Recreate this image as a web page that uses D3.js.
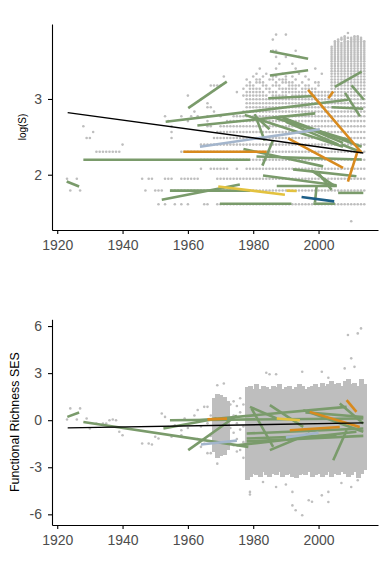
<!DOCTYPE html>
<html><head><meta charset="utf-8">
<script src="https://cdn.jsdelivr.net/npm/d3@7"></script>
<style>body{margin:0;background:#fff}svg{display:block}</style>
</head><body>
<svg id="c" width="390" height="565"></svg>
<script>
// ---------- DATA ----------
const xTicks = [1920, 1940, 1960, 1980, 2000];
const topYTicks = [2, 3];
const botYTicks = [-6, -3, 0, 3, 6];
const topYLabel = "log(S)";
const botYLabel = "Functional Richness SES";

// top panel raw observations: [species count S, first year, last year] (one point per year)
const topRuns = [
[4,2010,2010],
[5,1951,1951],[5,1953,1953],[5,1956,1956],[5,1958,1958],[5,1960,1960],[5,1965,1966],[5,1969,2014],
[6,1924,1924],[6,1927,1927],[6,1947,1947],[6,1950,1952],[6,1955,2014],
[7,1923,1923],[7,1926,1926],[7,1946,1946],[7,1948,1949],[7,1953,1955],[7,1958,1963],[7,1969,2014],
[8,1964,1964],[8,1967,1972],[8,1975,1975],[8,1978,2014],
[9,1964,2014],
[10,1932,1939],[10,1958,2014],
[11,1940,1940],[11,1964,2014],
[12,1929,1930],[12,1955,1955],[12,1968,2014],
[13,1931,1931],[13,1955,1955],[13,1969,2014],
[14,1928,1928],[14,1955,1955],[14,1966,1967],[14,1970,2014],
[15,1954,1954],[15,1960,1960],[15,1966,1966],[15,1972,2014],
[16,1953,1953],[16,1958,1958],[16,1961,1961],[16,1963,1963],[16,1966,1966],[16,1970,1970],[16,1974,2014],
[17,1962,1962],[17,1968,1968],[17,1977,2014],
[18,1966,1967],[18,1978,2014],
[19,1966,1966],[19,1978,2014],
[20,1964,1964],[20,1978,2014],
[21,1960,1960],[21,1977,1984],[21,1986,1990],[21,1992,2014],
[22,1975,1975],[22,1978,1983],[22,1985,1987],[22,1989,1996],[22,1998,2014],
[23,1977,1977],[23,1979,1982],[23,1984,1985],[23,1988,1993],[23,1995,1999],[23,2004,2014],
[24,1967,1970],[24,1978,1980],[24,1983,1984],[24,1986,1988],[24,1991,1994],[24,1996,1997],[24,2000,2000],[24,2004,2014],
[25,1979,1979],[25,1981,1983],[25,1987,1987],[25,1989,1992],[25,1995,1995],[25,1999,2000],[25,2004,2014],
[26,1978,1978],[26,1981,1982],[26,1985,1986],[26,1988,1990],[26,1993,1993],[26,1997,1997],[26,2004,2014],
[27,1971,1971],[27,1980,1980],[27,1983,1983],[27,1986,1987],[27,1990,1990],[27,1992,1992],[27,1996,1996],[27,2004,2014],
[28,1981,1981],[28,1984,1984],[28,1989,1989],[28,1994,1994],[28,2001,2001],[28,2004,2014],
[29,2004,2014],
[30,1982,1982],[30,1987,1987],[30,1993,1993],[30,1999,1999],[30,2004,2014],
[31,2004,2014],[32,1988,1988],[32,1992,1992],[32,2004,2014],[33,2004,2014],[34,2004,2014],
[35,1987,1987],[35,1990,1990],[35,1994,1994],[35,2004,2014],[36,2004,2014],[37,2004,2014],
[38,1986,1987],[38,1993,1993],[38,2004,2014],[39,2004,2014],[40,2004,2014],[41,2005,2014],
[42,2005,2014],[43,2005,2006],[43,2008,2014],[44,1986,1986],[44,2006,2008],[44,2010,2013],
[45,2007,2013],[46,2008,2008],[46,2011,2012],
[47,1987,1987],[47,1990,1990],[48,2009,2009]
];

// top panel site trends: [year0, value0, year1, value1]
const topGreen = [
[1922.9,1.91,1926.7,1.845],[1928,2.197,1979,2.197],[1960.1,2.88,1971.9,3.23],
[1953.2,2.70,2009.1,2.99],[1962.9,2.65,1999,2.81],[1985.1,3.63,1996.8,3.53],
[1985.1,3.31,1996.8,3.38],[1984.6,3.01,1998.9,3.04],[2005,3.16,2013.2,3.36],
[2010.1,3.18,2013.9,2.99],[2008.1,3.08,2012.7,2.77],[2004,2.89,2013.7,2.87],
[1980.5,2.80,1983.5,2.45],[1981,2.76,1985,2.60],[1986,2.45,1982.8,2.12],
[1977.4,2.79,2007.5,2.37],[1988.2,2.77,2007.5,2.42],[1989.2,2.75,2013.2,2.37],
[1986,2.76,2010,2.45],[1990,2.70,2006,2.40],[1977,2.34,2001.4,2.11],
[1981,2.24,2013.2,2.20],[1983,1.99,2005.5,1.86],[1992.2,2.07,2011.6,1.98],
[1998,2.05,2005,1.85],[2000,2.02,2004,1.80],[1952,1.67,1975.9,1.87],
[1954.5,1.79,1979,1.79],[1969.8,1.617,1991.7,1.617],[1998.4,1.617,2005,1.617],
[1987.2,1.85,2005.6,1.85],[2006,1.76,2013.7,1.76],[1999.4,1.85,1998.9,1.63],
[2007,2.40,2013,2.30]
];
const topOrange = [
[1958.6,2.303,1984.1,2.303],[1996.8,3.12,2013.2,2.29],[2003,3.01,2004.5,3.10],
[1990.7,2.48,2007.5,2.09],[2009,1.91,2012.1,2.33]
];
const topBlue = [[1963.7,2.37,2000.4,2.60]];
const topYellow = [[1969.3,1.845,1989.7,1.736],[1990.2,1.79,1993.3,1.785]];
const topNavy = [[1994.8,1.705,2004.8,1.648]];
const topTrend = [1923.2, 2.82, 2013.7, 2.287];

// bottom panel: dense yearly spread of observations [year, low, high]
const botBands = [
[1968,-2.0,1.4],[1969,-2.4,1.7],[1970,-2.3,1.6],[1971,-2.2,1.5],[1972,-1.9,1.2],
[1978,-3.8,2.1],[1979,-3.6,2.2],[1980,-3.4,2.0],[1981,-3.5,2.3],[1982,-3.6,2.0],
[1983,-3.3,2.2],[1984,-3.5,2.1],[1985,-3.6,2.0],[1986,-3.4,2.2],[1987,-3.5,2.1],
[1988,-3.3,2.3],[1989,-3.6,2.0],[1990,-3.5,2.1],[1991,-3.4,2.2],[1992,-3.6,2.0],
[1993,-3.7,2.1],[1994,-3.5,2.3],[1995,-3.4,2.2],[1996,-3.5,2.0],[1997,-3.3,2.1],
[1998,-3.6,2.2],[1999,-3.5,2.3],[2000,-3.4,2.1],[2001,-3.6,2.4],[2002,-3.5,2.2],
[2003,-3.3,2.3],[2004,-3.6,2.5],[2005,-3.4,2.3],[2006,-3.5,2.4],[2007,-3.3,2.2],
[2008,-3.4,2.5],[2009,-3.6,2.6],[2010,-3.5,2.3],[2011,-3.3,2.4],[2012,-3.7,2.2],
[2013,-3.4,2.6],[2014,-3.2,2.3]
];
// bottom panel scattered observations [year, value]
const botPts = [
[1923,0.04],[1924,0.75],[1927,0.75],[1926,0.04],[1929,0.11],[1930,-0.53],[1932,-0.21],
[1934,-0.21],[1935,-0.21],[1936,0.0],[1937,0.04],[1938,0.0],[1939,-0.74],[1940,-0.96],
[1946,-1.49],[1948,-1.49],[1949,-1.55],[1950,-1.06],[1951,-1.17],[1952,0.43],[1953,0.21],
[1954,-0.43],[1955,-1.06],[1956,-0.32],[1958,-0.64],[1958,-0.96],[1959,0.1],[1960,-0.5],
[1962,0.3],[1963,-1.2],[1963,0.65],[1964,-0.4],[1964,-1.7],[1965,0.85],[1965,-1.5],
[1966,0.85],[1966,-0.2],[1966,-2.1],[1967,0.3],[1967,-1.0],[1967,-2.1],[1968,0.7],
[1969,-2.77],[1969,2.23],[1971,2.34],
[1973,1.0],[1973,-0.5],[1973,-1.5],[1974,1.2],[1974,0.3],[1974,-0.8],[1974,-1.6],
[1975,0.9],[1975,-0.2],[1975,-1.2],[1975,-2.0],[1976,1.4],[1976,0.5],[1976,-0.6],
[1976,-1.9],[1977,1.0],[1977,-0.4],[1977,-1.4],[1977,-2.4],
[1984,3.02],[1985,2.93],[1987,2.93],[1995,3.09],[2001,3.09],[2003,2.7],[2008,3.3],
[2010,3.94],[2011,3.4],[2009,5.43],[2012,5.53],[2013,5.85],
[1979,-4.57],[1979,-4.74],[1983,-3.94],[1987,-4.26],[1990,-4.1],[1992,-4.57],[1992,-5.43],
[1993,-5.74],[1995,-6.06],[1997,-5.1],[1998,-5.2],[2001,-4.79],[2003,-5.21],[2003,-4.57],
[2010,-4.26],[2012,-3.83],[2007,-4.0]
];
const botGreen = [
[1923.1,0.21,1926.7,0.49],[1928,-0.11,1978.5,-1.70],[1954.5,0.0,2013.7,0.11],
[1952.5,-0.53,1968.8,0.11],[1960.1,-1.91,1975,0.3],[1963.7,0.0,2008.6,0.85],
[1979,0.85,1987.2,0.11],[1985.1,0.96,1995.3,-0.43],[1995.3,0.64,2013.7,-0.74],
[1978,-0.85,2013.7,-0.53],[1978,-1.17,2005.5,-0.96],[1985.1,-1.91,1997.3,-0.85],
[2004.5,-2.55,2008.6,-0.64],[1979.5,0.74,1986.1,-1.7],[1974.9,-1.6,2011.6,-0.74],
[1978,-1.35,2013.7,-1.0],[2006.5,1.06,2013.7,-0.21],[1996,0.5,2013.7,0.2]
];
const botOrange = [
[2008.6,1.28,2011.6,0.53],[1997.3,0.53,2012.6,-0.43],[1991.2,-0.64,2006.5,-0.43],
[1966,0.05,1972,0.1]
];
const botBlue = [[1964,-1.55,1975,-1.3],[1990,-1.1,2000,-0.8]];
const botYellow = [[1987.2,0.11,1994.3,0.0]];
const botTrend = [1923.2, -0.49, 2013.7, -0.17];

// ---------- DRAW ----------
const FONT = "'Liberation Sans', Arial, Helvetica, sans-serif";
const GREY = "#bebebe";
const COLORS = {green:"#7a9b6b", orange:"#d88a1e", blue:"#a3b5cc", yellow:"#e3c23f", navy:"#1c5f88"};
const svg = d3.select("#c");
const x = d3.scaleLinear().domain([1918.4, 2018.2]).range([52, 378]);
const yT = d3.scaleLinear().domain([1.27, 3.99]).range([230, 24]);
const yB = d3.scaleLinear().domain([-6.68, 6.43]).range([525, 319.3]);

function segs(g, data, y, color, w) {
  g.selectAll(null).data(data).enter().append("line")
    .attr("x1", d => x(d[0])).attr("y1", d => y(d[1]))
    .attr("x2", d => x(d[2])).attr("y2", d => y(d[3]))
    .attr("stroke", color).attr("stroke-width", w).attr("stroke-linecap", "butt");
}
function axes(y, yticks, label, labelX, labelSize) {
  const gx = svg.append("g").attr("transform", `translate(0,${y.range()[0]})`)
    .call(d3.axisBottom(x).tickValues(xTicks).tickFormat(d3.format("d")).tickSize(4).tickSizeOuter(0).tickPadding(6));
  const gy = svg.append("g").attr("transform", "translate(52,0)")
    .call(d3.axisLeft(y).tickValues(yticks).tickFormat(d => d < 0 ? "-" + Math.abs(d) : d).tickSize(4).tickSizeOuter(0).tickPadding(6));
  [gx, gy].forEach(g => {
    g.select(".domain").attr("stroke", "#000").attr("stroke-width", 1.1);
    g.selectAll(".tick line").attr("stroke", "#000").attr("stroke-width", 1.1);
    g.selectAll(".tick text").attr("fill", "#4d4d4d").style("font-family", FONT).style("font-size", "14px");
  });
  const cy = (y.range()[0] + y.range()[1]) / 2;
  svg.append("text").attr("transform", `translate(${labelX},${cy}) rotate(-90)`)
    .attr("text-anchor", "middle").attr("dy", "0.35em")
    .style("font-family", FONT).style("font-size", labelSize).attr("fill", "#000").text(label);
}

// top panel
const topPts = [];
topRuns.forEach(([s, a, b]) => { for (let yr = a; yr <= b; yr++) topPts.push([yr, Math.log(s)]); });
const gT = svg.append("g");
gT.selectAll("circle").data(topPts).enter().append("circle")
  .attr("cx", d => x(d[0])).attr("cy", d => yT(d[1])).attr("r", 1.3).attr("fill", GREY);
segs(gT, topGreen, yT, COLORS.green, 2.6);
segs(gT, topBlue, yT, COLORS.blue, 2.6);
segs(gT, topYellow, yT, COLORS.yellow, 2.6);
segs(gT, topNavy, yT, COLORS.navy, 2.6);
segs(gT, topOrange, yT, COLORS.orange, 2.6);
segs(gT, [topTrend], yT, "#000", 1.4);
axes(yT, topYTicks, topYLabel, 22, "10px");

// bottom panel
const gB = svg.append("g");
const yw = x(1921) - x(1920);
gB.append("g").attr("shape-rendering", "crispEdges")
  .selectAll("rect").data(botBands).enter().append("rect")
  .attr("x", d => Math.floor(x(d[0]) - yw / 2)).attr("width", Math.ceil(yw) + 1)
  .attr("y", d => yB(d[2])).attr("height", d => yB(d[1]) - yB(d[2]))
  .attr("fill", GREY);
gB.selectAll("circle").data(botPts).enter().append("circle")
  .attr("cx", d => x(d[0])).attr("cy", d => yB(d[1])).attr("r", 1.3).attr("fill", GREY);
segs(gB, botGreen, yB, COLORS.green, 2.6);
segs(gB, botBlue, yB, COLORS.blue, 2.6);
segs(gB, botYellow, yB, COLORS.yellow, 2.6);
segs(gB, botOrange, yB, COLORS.orange, 2.6);
segs(gB, [botTrend], yB, "#000", 1.4);
axes(yB, botYTicks, botYLabel, 15, "12.4px");
</script>
</body></html>
